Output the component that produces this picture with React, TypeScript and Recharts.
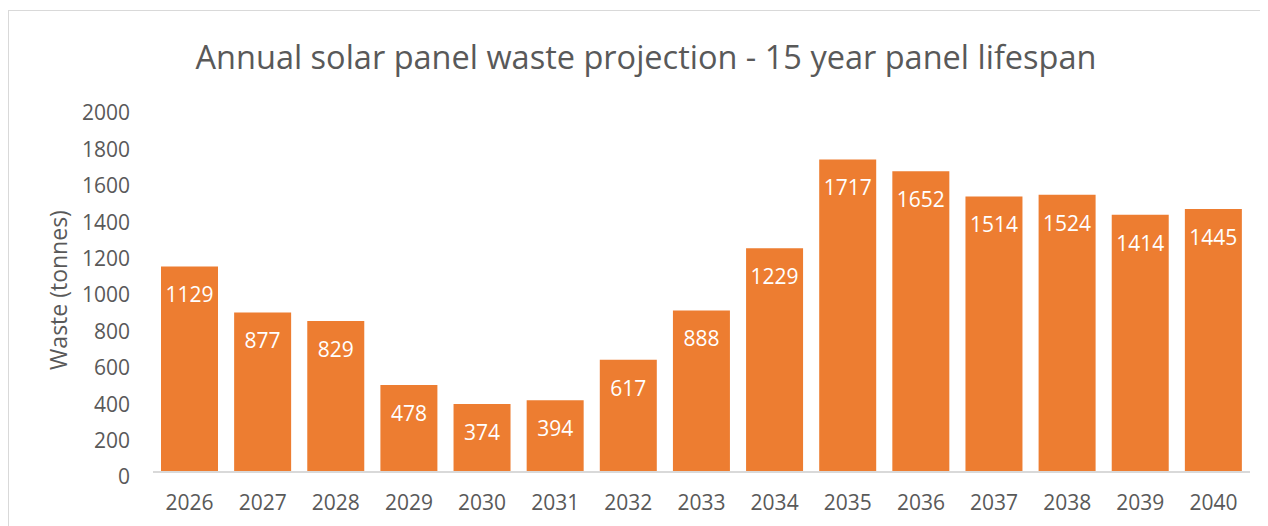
import { BarChart, Bar, XAxis, YAxis, LabelList } from "recharts";

const years = ["2026", "2027", "2028", "2029", "2030", "2031", "2032", "2033", "2034", "2035", "2036", "2037", "2038", "2039", "2040"];
const waste = [1129, 877, 829, 478, 374, 394, 617, 888, 1229, 1717, 1652, 1514, 1524, 1414, 1445];
const yTicks = [0, 200, 400, 600, 800, 1000, 1200, 1400, 1600, 1800, 2000];

const data = years.map((year, i) => ({ year, waste: waste[i] }));

const FONT = "'Open Sans', sans-serif";
const GREY = "#595959";

export default function App() {
  return (
    <div
      style={{
        position: "relative",
        marginTop: 2,
        width: 1280,
        height: 530,
        border: "1px solid #d9d9d9",
        fontFamily: FONT,
        boxSizing: "border-box",
      }}
    >
      <div
        style={{
          position: "absolute",
          top: 23,
          left: 0,
          width: 1274,
          textAlign: "center",
          fontSize: 32.5,
          color: GREY,
        }}
      >
        Annual solar panel waste projection - 15 year panel lifespan
      </div>
      <BarChart
        width={1260}
        height={515}
        data={data}
        margin={{ top: 97, right: 19, left: 74, bottom: 10 }}
        barCategoryGap={8}
      >
        <XAxis
          dataKey="year"
          height={44}
          tickLine={false}
          axisLine={{ stroke: "#d9d9d9", strokeWidth: 2 }}
          tick={{ fill: GREY, fontSize: 21, fontFamily: FONT }}
          tickMargin={17}
        />
        <YAxis
          width={70}
          domain={[0, 2000]}
          ticks={yTicks}
          interval={0}
          axisLine={false}
          tickLine={false}
          tickSize={0}
          tickMargin={23}
          tick={{ fill: GREY, fontSize: 21, fontFamily: FONT, dy: 5 }}
          label={{
            value: "Waste (tonnes)",
            angle: -90,
            position: "insideLeft",
            dx: -29,
            dy: 0,
            style: { textAnchor: "middle", fill: GREY, fontSize: 23, fontFamily: FONT },
          }}
        />
        <Bar dataKey="waste" fill="#ED7D31" isAnimationActive={false}>
          <LabelList
            dataKey="waste"
            position="insideTop"
            offset={21}
            style={{ fill: "#ffffff", fontSize: 21, fontFamily: FONT }}
          />
        </Bar>
      </BarChart>
    </div>
  );
}
